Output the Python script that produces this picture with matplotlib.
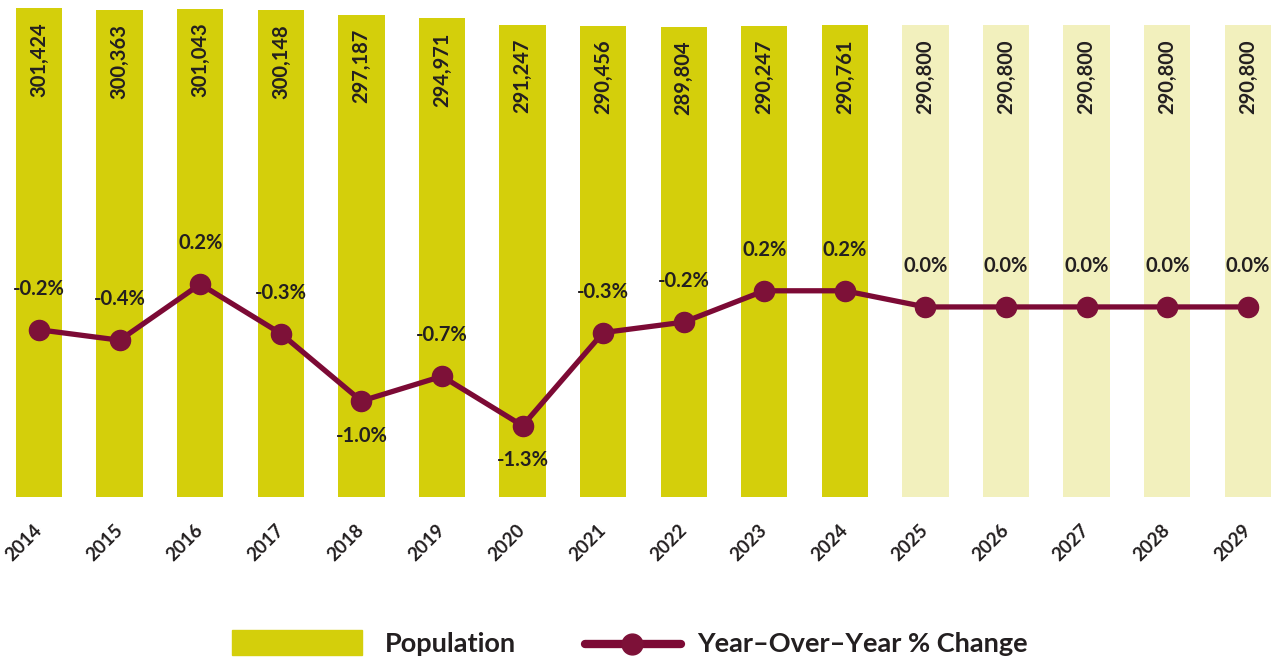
import matplotlib
matplotlib.use("Agg")
import matplotlib.pyplot as plt
from matplotlib.patches import Rectangle
from matplotlib.lines import Line2D

plt.rcParams['font.family'] = ['Lato', 'DejaVu Sans']
plt.rcParams['font.weight'] = 'bold'

years = ['2014', '2015', '2016', '2017', '2018', '2019', '2020', '2021',
         '2022', '2023', '2024', '2025', '2026', '2027', '2028', '2029']
population = [301424, 300363, 301043, 300148, 297187, 294971, 291247, 290456,
              289804, 290247, 290761, 290800, 290800, 290800, 290800, 290800]
pop_labels = ['301,424', '300,363', '301,043', '300,148', '297,187', '294,971',
              '291,247', '290,456', '289,804', '290,247', '290,761', '290,800',
              '290,800', '290,800', '290,800', '290,800']
yoy_change = [-0.24, -0.35, 0.24, -0.28, -0.99, -0.73, -1.25, -0.27,
              -0.16, 0.17, 0.17, 0.0, 0.0, 0.0, 0.0, 0.0]
yoy_labels = ['-0.2%', '-0.4%', '0.2%', '-0.3%', '-1.0%', '-0.7%', '-1.3%', '-0.3%',
              '-0.2%', '0.2%', '0.2%', '0.0%', '0.0%', '0.0%', '0.0%', '0.0%']
forecast_from = 2025
below = ['2018', '2020']

bar_color = '#D4CF0B'
forecast_color = '#F2F0BD'
line_color = '#7C0A35'
marker_color = '#7D1138'
text_color = '#231F20'

fig = plt.figure(figsize=(12.8, 6.6), dpi=100)
ax = fig.add_axes([0, 1 - 497 / 660, 1, 497 / 660])
x = list(range(len(years)))
colors = [forecast_color if int(y) >= forecast_from else bar_color for y in years]
ax.bar(x, population, width=0.575, color=colors, zorder=1)
ax.set_ylim(0, 306355)
ax.set_xlim(-0.485, 15.4)

for xi, p, lab in zip(x, population, pop_labels):
    ax.annotate(lab, (xi, p), xytext=(0, -10), textcoords='offset points',
                rotation=90, ha='center', va='top', fontsize=14.5,
                color=text_color, fontweight='bold')

ax.set_xticks(x)
ax.set_xticklabels(years, rotation=45, ha='right', va='center',
                   rotation_mode='anchor', fontsize=13.5, color=text_color,
                   fontweight='bold')
for s in ax.spines.values():
    s.set_visible(False)

ax2 = ax.twinx()
# twinx turns the left ticks back on, so hide them afterwards
ax.tick_params(axis='x', length=0, pad=22)
ax.tick_params(axis='y', left=False, right=False, labelleft=False, labelright=False)
ax2.set_ylim(-2.0, 3.23)
ax2.plot(x, yoy_change, color=line_color, linewidth=3.8, marker='o',
         markersize=14.5, markerfacecolor=marker_color,
         markeredgecolor=marker_color, zorder=3)
for xi, v, lab, yr in zip(x, yoy_change, yoy_labels, years):
    dy = -25 if yr in below else 29.5
    ax2.annotate(lab, (xi, v), xytext=(0, dy), textcoords='offset points',
                 ha='center', va='center', fontsize=14.5, color=text_color,
                 fontweight='bold')
ax2.set_yticks([])
ax2.tick_params(axis='y', left=False, right=False)
for s in ax2.spines.values():
    s.set_visible(False)

# legend
fig.patches.append(Rectangle((232 / 1280, 1 - 655 / 660), 130 / 1280, 25 / 660,
                             transform=fig.transFigure, color=bar_color))
fig.text(385 / 1280, 1 - 644 / 660, 'Population', fontsize=19.5,
         color=text_color, va='center', ha='left', fontweight='bold')
fig.lines.append(Line2D([585 / 1280, 681 / 1280], [1 - 644 / 660] * 2,
                        transform=fig.transFigure, color=line_color,
                        linewidth=6, solid_capstyle='round'))
fig.lines.append(Line2D([632 / 1280], [1 - 644 / 660], transform=fig.transFigure,
                        marker='o', markersize=15, color=marker_color))
fig.text(697 / 1280, 1 - 644 / 660, 'Year\u2013Over\u2013Year % Change',
         fontsize=19.5, color=text_color, va='center', ha='left',
         fontweight='bold')

fig.savefig('out.png', dpi=100)
